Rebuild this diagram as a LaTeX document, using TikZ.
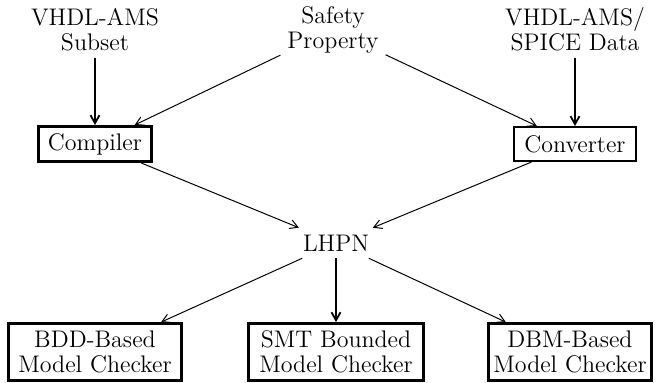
\documentclass[tikz,border=0pt]{standalone}
\usetikzlibrary{arrows.meta}

\begin{document}
\begin{tikzpicture}[x=0.5pt, y=-0.5pt,
          every node/.style={font=\fontsize{12}{12.5}\selectfont, align=center},
          >={Straight Barb[length=4pt, width=4.5pt]},
          box/.style={draw, line width=1.4pt, inner sep=0pt, minimum height=17.6pt},
          wide/.style={draw, line width=1.4pt, inner sep=0pt, minimum height=28.5pt},
          feed/.style={->, line width=0.9pt},
          flow/.style={->, line width=0.5pt}]
          \useasboundingbox (0, 0) rectangle (658, 383);

          \node (vhdl) at (95, 30) {VHDL-AMS\\Subset};
          \node (prop) at (333, 30) {Safety\\Property};
          \node (spice) at (575, 29) {VHDL-AMS/\\SPICE Data};

          \node[box, minimum width=56.6pt] (comp) at (95, 144) {Compiler};
          \node[box, line width=1pt, minimum width=61pt, minimum height=17pt] (conv) at (575, 144) {Converter};
          \draw[feed] (vhdl) to (comp);
          \draw[feed] (spice) to (conv);
          \draw[flow] (prop) to (comp);
          \draw[flow] (prop) to (conv);

          \node (lhpn) at (336, 243) {LHPN};
          \draw[flow] (comp) to (lhpn);
          \draw[flow] (conv) to (lhpn);

          \node[wide, minimum width=86.5pt] (bdd) at (95, 352) {BDD-Based\\Model Checker};
          \node[wide, minimum width=87.5pt] (smt) at (336, 352) {SMT Bounded\\Model Checker};
          \node[wide, minimum width=81.5pt] (dbm) at (570, 352) {DBM-Based\\Model Checker};
          \draw[flow] (lhpn) to (bdd);
          \draw[feed] (lhpn) to (smt);
          \draw[flow] (lhpn) to (dbm);
        \end{tikzpicture}
\end{document}
